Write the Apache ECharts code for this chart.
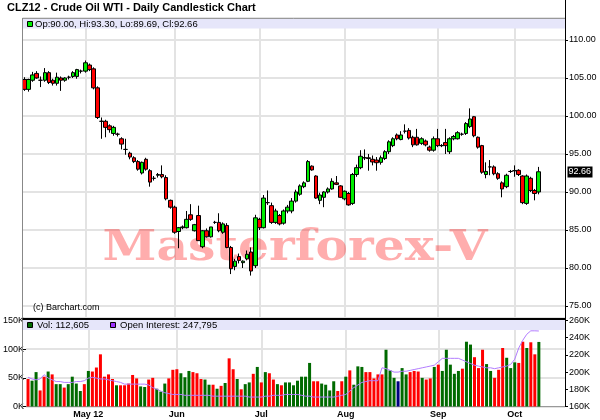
<!DOCTYPE html>
<html><head><meta charset="utf-8">
<script src="https://cdn.jsdelivr.net/npm/echarts@6/dist/echarts.min.js"></script>
<style>html,body{margin:0;padding:0;background:#fff}#c{width:600px;height:420px}</style>
</head><body><div id="c"></div>
<script>
// ---- data ----
const categories = [
 '4/10','4/11','4/12','4/13','4/16','4/17','4/18','4/19','4/20','4/23','4/24','4/25','4/26','4/27','4/30',
 '5/1','5/2','5/3','5/4','5/7','5/8','5/9','5/10','5/11','5/14','5/15','5/16','5/17','5/18','5/21','5/22','5/23','5/24','5/25','5/29','5/30','5/31',
 '6/1','6/4','6/5','6/6','6/7','6/8','6/11','6/12','6/13','6/14','6/15','6/18','6/19','6/20','6/21','6/22','6/25','6/26','6/27','6/28','6/29',
 '7/2','7/3','7/5','7/6','7/9','7/10','7/11','7/12','7/13','7/16','7/17','7/18','7/19','7/20','7/23','7/24','7/25','7/26','7/27','7/30','7/31',
 '8/1','8/2','8/3','8/6','8/7','8/8','8/9','8/10','8/13','8/14','8/15','8/16','8/17','8/20','8/21','8/22','8/23','8/24','8/27','8/28','8/29','8/30','8/31',
 '9/4','9/5','9/6','9/7','9/10','9/11','9/12','9/13','9/14','9/17','9/18','9/19','9/20','9/21','9/24','9/25','9/26','9/27','9/28',
 '10/1','10/2','10/3','10/4','10/5','10/8','10/9'
];
const monthLabels = {'5/1':'May 12','6/1':'Jun','7/2':'Jul','8/1':'Aug','9/4':'Sep','10/1':'Oct'};

const opens = [104.8,103.5,104.7,105.6,104.7,104.7,105.7,104.7,104.3,105.0,104.7,105.1,105.2,105.2,105.9,105.9,106.7,106.2,103.7,99.3,
 99.3,98.7,97.7,97.6,97.0,95.6,95.1,94.5,94.0,92.5,94.3,92.8,91.8,92.2,92.3,91.9,88.9,88.0,84.8,85.3,
 85.3,87.0,84.9,86.9,82.8,84.9,84.1,86.0,86.0,84.7,85.6,82.7,80.2,81.5,80.7,81.2,82.1,80.3,86.4,85.3,
 88.6,88.2,86.0,86.9,85.9,87.5,87.5,88.8,89.7,90.7,91.4,93.4,92.1,88.9,89.3,90.0,90.4,91.2,90.8,89.1,
 89.8,88.5,92.3,93.2,94.5,94.5,94.3,94.2,93.9,94.4,95.3,96.1,97.5,96.9,98.0,98.1,97.2,97.2,96.4,96.7,
 95.9,95.5,97.0,96.1,96.5,95.3,97.0,97.0,97.6,97.7,98.6,99.9,97.2,96.1,92.3,93.3,93.3,92.4,91.2,90.7,
 92.7,92.8,92.85,92.1,88.5,91.8,90.2,90.00];
const closes = [103.5,104.8,105.4,105.0,104.7,105.7,104.4,104.3,105.1,104.7,105.0,105.1,105.7,106.1,105.9,107.0,106.1,103.7,99.8,99.3,
 98.5,98.2,98.5,97.6,96.3,95.6,94.6,94.0,93.0,93.9,93.0,91.3,91.8,92.3,92.0,89.1,88.0,84.7,85.3,85.4,
 86.4,86.4,85.7,83.6,84.9,84.1,85.4,86.0,84.9,85.8,82.7,79.9,80.9,81.0,80.9,81.8,79.6,86.6,85.3,89.2,
 88.6,86.0,87.5,85.8,87.5,88.0,88.8,90.0,90.8,91.2,94.0,92.9,89.2,89.6,90.0,90.4,91.4,91.0,89.3,90.1,
 88.3,92.3,93.2,94.7,94.5,94.4,93.95,93.85,94.5,95.3,96.6,97.0,97.0,97.5,98.0,97.1,96.2,96.2,97.0,96.2,
 95.5,97.0,96.1,96.1,96.1,97.0,97.3,97.8,97.6,99.0,99.6,97.4,95.9,92.6,92.7,93.3,92.4,91.8,90.4,92.2,
 92.7,92.8,92.3,88.6,92.1,90.2,89.8,92.66];
const lows = [103.3,103.2,104.5,104.9,103.8,104.5,104.2,104.0,104.0,103.3,104.5,104.8,105.0,104.9,105.6,105.7,105.9,103.5,99.6,97.0,
 97.2,97.8,97.4,97.3,95.6,94.9,94.3,93.8,92.8,92.3,92.8,90.7,91.5,91.9,91.8,88.9,87.8,84.5,82.6,85.1,
 85.2,86.2,84.8,83.6,82.6,84.0,84.0,85.8,84.7,84.5,82.6,79.2,79.7,80.6,80.0,81.0,79.0,80.0,85.0,85.2,
 88.3,85.8,85.8,85.6,85.7,87.2,87.2,88.6,89.5,90.5,91.3,92.8,89.1,88.4,88.0,89.8,90.3,90.9,89.2,88.9,
 88.2,88.3,92.0,93.0,94.2,92.8,93.5,92.8,93.6,94.2,95.0,95.9,96.8,96.8,97.7,96.9,95.9,96.1,96.2,96.0,
 95.3,95.3,95.9,95.9,95.0,95.0,96.8,96.9,97.4,97.5,98.4,97.2,95.7,92.4,91.8,92.2,92.2,91.6,89.3,90.5,
 92.5,92.0,92.1,88.4,88.3,90.0,88.9,89.69];
const highs = [105.1,104.9,105.8,105.9,105.2,106.3,105.9,104.9,105.7,105.2,105.1,105.3,105.9,106.2,106.1,107.3,106.9,106.4,103.9,99.8,
 99.5,98.9,98.7,97.8,97.2,97.0,95.3,94.7,94.2,94.0,94.5,93.0,92.1,92.5,93.5,92.2,89.0,88.2,85.4,85.6,
 87.5,88.4,85.8,88.2,85.0,85.2,85.4,86.2,87.2,86.0,85.9,82.9,81.2,81.9,81.0,82.3,82.7,87.0,86.6,89.6,
 90.2,88.6,87.8,87.1,87.7,88.3,89.2,90.3,91.0,91.4,94.2,93.5,92.2,89.9,90.1,90.6,91.8,92.1,90.9,90.2,
 90.0,92.5,93.6,95.5,95.6,95.0,94.8,94.6,94.8,95.5,96.8,97.2,97.7,98.0,98.9,98.4,97.4,98.3,97.2,96.9,
 96.1,97.3,98.3,96.3,98.3,97.2,97.5,98.0,97.8,99.2,101.0,100.0,97.3,96.2,93.9,94.2,93.5,92.6,91.4,92.4,
 92.9,93.5,93.0,92.2,92.3,92.0,90.4,93.30];

// volume in thousands of contracts
const volumes = [48,45,60,28,52,61,56,39,39,33,39,52,40,27,39,62,61,68,91,52,
 56,48,37,37,37,40,55,49,35,34,47,50,31,26,40,49,64,65,58,51,
 62,60,58,48,47,38,38,31,36,41,84,65,48,30,39,42,57,69,42,60,
 58,47,39,37,42,42,37,45,52,52,76,44,44,40,38,28,44,27,44,52,
 63,38,70,69,60,60,49,56,56,99,63,50,44,67,56,60,62,61,50,47,
 49,69,73,62,99,73,57,62,66,113,108,86,67,99,74,62,50,64,102,85,
 67,77,76,113,102,112,91,112.605];
// volume bar direction: 1 up, -1 down, 0 unchanged
const volDir = [-1,1,1,-1,-1,1,-1,1,1,-1,1,1,1,1,-1,1,-1,-1,-1,-1,
 -1,-1,1,-1,-1,-1,-1,-1,1,1,-1,-1,1,1,1,-1,-1,-1,1,1,
 1,-1,-1,-1,1,1,-1,1,-1,1,-1,-1,1,-1,1,1,-1,1,-1,1,
 -1,-1,1,-1,1,1,1,1,1,1,1,-1,-1,1,1,1,1,-1,-1,1,
 -1,1,1,1,-1,-1,-1,-1,-1,1,1,1,0,1,1,-1,-1,-1,1,-1,
 -1,1,-1,1,1,1,1,1,-1,1,1,-1,-1,-1,1,1,-1,-1,-1,1,
 1,1,-1,-1,1,-1,-1,1];
// open interest in thousands
const openInterest = [194,192,191,192,197,193,191,189,189,188,
 188,188,189,189,190,193,194,193,192,192,
 191,190,189,188,186,186,186,186,186,186,
 185,182,180,178,176,175,174,174,174,173,
 173,173,173,173,173,173,172,172,172,172,
 172,172,172,172,172,171,171,171,171,172,
 172,173,173,173,174,174,174,174,173,172,
 172,171,171,171,171,171,171,172,173,174,
 178,182,185,188,189,190,190,190,205,204,
 202,200,200,201,201,202,203,204,205,206,
 207,208,212,216,216,216,216,216,214,212,
 210,208,207,206,205,205,204,205,206,207,
 209,215,228,237,244,248,248,247.795];

const quote = {op:90.00, hi:93.30, lo:89.69, cl:92.66};
const lastVol = 112605, lastOI = 247795;
const title = 'CLZ12 - Crude Oil WTI - Daily Candlestick Chart';
const volTicksK = [0,50,100,150];
const oiTicksK = [160,180,200,220,240,260];

// ---- chart ----
const FONT = '"Liberation Sans", Arial, sans-serif';
const PAD = 6;
const xCats = categories.concat(Array.from({length: PAD}, (_, k) => ' '.repeat(k + 1)));
const monthStarts = Object.keys(monthLabels);
const grid = {left: 22.5, right: 35};
const gridLine = {color: '#e3e3e3', width: 2, type: 'solid'};
const monthMark = {
  silent: true, symbol: 'none', z: 1, animation: false,
  label: {show: false}, lineStyle: gridLine,
  data: monthStarts.map(d => ({xAxis: d}))
};
const volColors = {'1': '#006a00', '-1': '#ff0000', '0': '#000080'};

const chart = echarts.init(document.getElementById('c'), null, {renderer: 'canvas'});
const option = {
  animation: false,
  textStyle: {fontFamily: FONT},
  grid: [
    {left: grid.left, right: grid.right, top: 18, height: 300},
    {left: grid.left, right: grid.right, top: 320.5, height: 86}
  ],
  xAxis: [
    {type: 'category', gridIndex: 0, data: xCats, boundaryGap: true,
     axisLine: {show: false}, axisTick: {show: false}, axisLabel: {show: false}, splitLine: {show: false}},
    {type: 'category', gridIndex: 1, data: xCats, boundaryGap: true,
     axisLine: {show: true, lineStyle: {color: '#999', width: 1}}, axisTick: {show: false},
     axisLabel: {interval: (i, v) => !!monthLabels[v], formatter: v => monthLabels[v] || '',
       fontSize: 9, fontWeight: 'bold', color: '#000', margin: 4, fontFamily: FONT},
     splitLine: {show: false}}
  ],
  yAxis: [
    {type: 'value', gridIndex: 0, position: 'right', min: 73.42, max: 112.89, splitNumber: 8,
     axisLine: {show: false}, axisTick: {show: true, length: 3, lineStyle: {color: '#000'}},
     axisLabel: {fontSize: 9, color: '#000', margin: 4, fontFamily: FONT, formatter: v => v.toFixed(2),
       showMinLabel: false, showMaxLabel: false},
     splitLine: {lineStyle: gridLine}},
    {type: 'value', gridIndex: 1, position: 'left', min: volTicksK[0], max: volTicksK[volTicksK.length - 1], interval: 50,
     axisLine: {show: false}, axisTick: {show: true, length: 3, lineStyle: {color: '#000'}},
     axisLabel: {fontSize: 9, color: '#000', margin: 2, fontFamily: FONT, formatter: v => v + 'K'},
     splitLine: {lineStyle: gridLine}},
    {type: 'value', gridIndex: 1, position: 'right', min: oiTicksK[0], max: oiTicksK[oiTicksK.length - 1], interval: 20,
     axisLine: {show: false}, axisTick: {show: true, length: 3, lineStyle: {color: '#000'}},
     axisLabel: {fontSize: 9, color: '#000', margin: 4, fontFamily: FONT, formatter: v => v + 'K'},
     splitLine: {show: false}}
  ],
  series: [
    {type: 'candlestick', name: 'CLZ12', xAxisIndex: 0, yAxisIndex: 0, barWidth: 4,
     data: categories.map((c, i) => [opens[i], closes[i], lows[i], highs[i]]),
     itemStyle: {color: '#00ee00', color0: '#ff0000', borderColor: '#000', borderColor0: '#000',
       borderColorDoji: '#000', borderWidth: 1},
     markLine: monthMark},
    {type: 'bar', name: 'Vol', xAxisIndex: 1, yAxisIndex: 1, barWidth: 3,
     data: volumes.map((v, i) => ({value: v, itemStyle: {color: volColors[String(volDir[i])]}})),
     markLine: monthMark},
    {type: 'line', name: 'Open Interest', xAxisIndex: 1, yAxisIndex: 2, data: openInterest,
     symbol: 'none', z: 3, lineStyle: {color: '#b27cff', width: 1}}
  ]
};
chart.setOption(option);

const yLast = chart.convertToPixel({yAxisIndex: 0}, quote.cl);
const fmt = n => n.toLocaleString('en-US');
const txt = (x, y, text, font, fill, extra) => Object.assign({
  type: 'text', x: x, y: y, z: 100,
  style: {text: text, font: font, fill: fill || '#000', align: 'left', verticalAlign: 'middle',
          textAlign: 'left', textVerticalAlign: 'middle'}
}, extra || {});
chart.setOption({
  graphic: [
    // watermark
    {type: 'text', x: 295, y: 249, z: 1, silent: true, scaleX: 1.16,
     style: {text: 'Masterforex-V', font: 'bold 42px "DejaVu Serif", serif', fill: 'rgba(255,0,0,0.32)',
             align: 'center', verticalAlign: 'middle', textAlign: 'center', textVerticalAlign: 'middle'}},
    // header box
    {type: 'rect', z: 90, shape: {x: 22.5, y: 18, width: 542.5, height: 10.5}, style: {fill: '#e6e6fa'}},
    {type: 'line', z: 91, shape: {x1: 22.5, y1: 18.5, x2: 565, y2: 18.5}, style: {stroke: '#999', lineWidth: 1}},
    {type: 'rect', z: 92, shape: {x: 27.5, y: 21.5, width: 5, height: 5}, style: {fill: '#00ee00', stroke: '#000', lineWidth: 1}},
    txt(35, 24, 'Op:' + quote.op.toFixed(2) + ', Hi:' + quote.hi.toFixed(2) + ', Lo:' + quote.lo.toFixed(2) + ', Cl:' + quote.cl.toFixed(2),
        '9.5px ' + FONT),
    // title
    txt(7, 8, title, 'bold 11px ' + FONT),
    // copyright
    txt(33, 307.5, '(c) Barchart.com', '9px ' + FONT, '#000'),
    // panel frame
    {type: 'line', z: 91, shape: {x1: 22.5, y1: 18, x2: 22.5, y2: 407}, style: {stroke: '#888', lineWidth: 1}},
    {type: 'line', z: 91, shape: {x1: 565.5, y1: 0, x2: 565.5, y2: 407}, style: {stroke: '#000', lineWidth: 1}},
    {type: 'line', z: 91, shape: {x1: 22.5, y1: 319, x2: 565.5, y2: 319}, style: {stroke: '#000', lineWidth: 2}},
    // volume legend box
    {type: 'rect', z: 90, shape: {x: 23, y: 320, width: 542, height: 10}, style: {fill: '#e6e6fa'}},
    {type: 'rect', z: 92, shape: {x: 27.5, y: 322.5, width: 5, height: 5}, style: {fill: '#006a00', stroke: '#000', lineWidth: 1}},
    txt(37, 325.5, 'Vol: ' + fmt(lastVol), '9.5px ' + FONT),
    {type: 'rect', z: 92, shape: {x: 110.5, y: 322.5, width: 5, height: 5}, style: {fill: '#9b30ff', stroke: '#000', lineWidth: 1}},
    txt(120, 325.5, 'Open Interest: ' + fmt(lastOI), '9.5px ' + FONT),
    // last price tag
    {type: 'rect', z: 95, shape: {x: 567.5, y: Math.round(yLast) - 5.5, width: 25, height: 11}, style: {fill: '#000'}},
    txt(568.5, Math.round(yLast), quote.cl.toFixed(2), '9px ' + FONT, '#fff', {z: 96})
  ]
});
</script>
</body></html>
